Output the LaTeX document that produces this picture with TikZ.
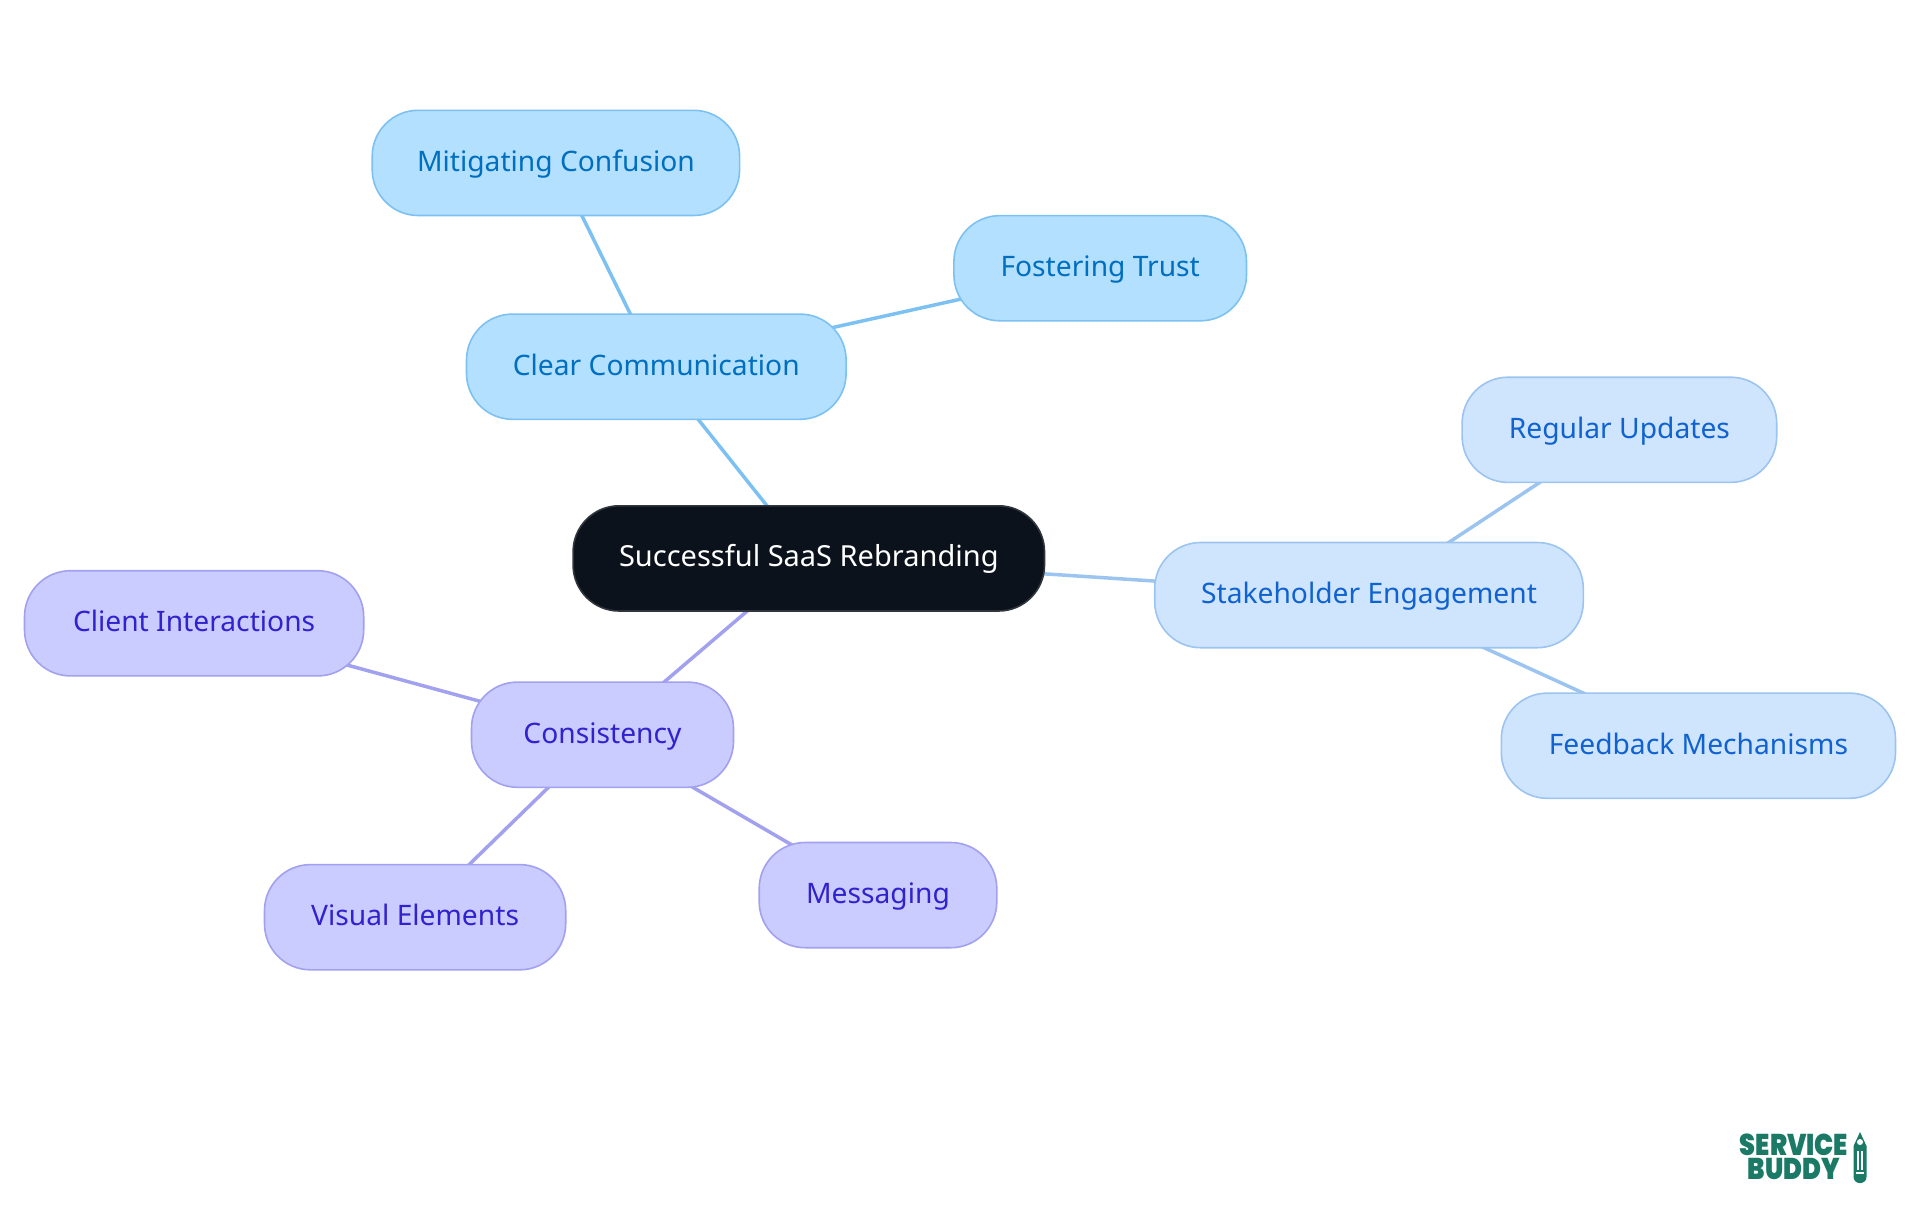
\documentclass[tikz,border=0pt]{standalone}
\usepackage{fontspec}
\setmainfont{Noto Sans}
\newfontfamily\logofont{Poppins}[BoldFont={Poppins Black}]
\usetikzlibrary{backgrounds}
\definecolor{skyfill}{HTML}{B3E0FF}
\definecolor{skyline}{HTML}{7CC1F2}
\definecolor{skytext}{HTML}{006FBF}
\definecolor{palefill}{HTML}{CFE4FD}
\definecolor{paleline}{HTML}{9CC4F0}
\definecolor{paletext}{HTML}{0F62D0}
\definecolor{violetfill}{HTML}{CACBFF}
\definecolor{violetline}{HTML}{A1A1F0}
\definecolor{violettext}{HTML}{3022CC}
\definecolor{rootfill}{HTML}{0B121B}
\definecolor{logogreen}{HTML}{1B7A66}
\tikzset{
 idea/.style = {
    rectangle, draw, line width=0.8pt,
    rounded corners=23pt,
    inner sep=0pt,
    minimum height=52.6pt,
    text height=11.4pt, text depth=3pt,
    font=\fontsize{14.1}{17}\selectfont},
 root/.style = {
    idea, fill=rootfill, draw=rootfill!85!white, text=white,
    font=\fontsize{14.5}{17}\selectfont},
 sky/.style = {
    idea, fill=skyfill, draw=skyline, text=skytext},
 pale/.style = {
    idea, fill=palefill, draw=paleline, text=paletext},
 violet/.style = {
    idea, fill=violetfill, draw=violetline, text=violettext},
 link/.style = {
    draw, line width=1.75pt},
 logotext/.style = {
    text=logogreen, inner sep=0pt, align=center, transform shape, xscale=0.85,
    font=\logofont\bfseries\fontsize{15}{12}\selectfont},
}
\begin{document}
\begin{tikzpicture}[x=0.5pt, y=-0.5pt]
    \useasboundingbox (0,0) rectangle (1920,1215);

    % Place nodes
    \node [root, minimum width=235.7pt]   (saas)     at (808.8,558.4) {Successful SaaS Rebranding};
    \node [sky, minimum width=189.8pt]    (clear)    at (656.3,366.7) {Clear Communication};
    \node [sky, minimum width=183.7pt]    (confuse)  at (555.9,162.9) {Mitigating Confusion};
    \node [sky, minimum width=146.3pt]    (trust)    at (1100.2,268.2) {Fostering Trust};
    \node [pale, minimum width=214.3pt]   (stake)    at (1369,595.1)  {Stakeholder Engagement};
    \node [pale, minimum width=157.3pt]   (updates)  at (1619.4,429.8) {Regular Updates};
    \node [pale, minimum width=197.1pt]   (feedback) at (1698.4,745.7) {Feedback Mechanisms};
    \node [violet, minimum width=131pt]   (consist)  at (602.5,734.7) {Consistency};
    \node [violet, minimum width=169.6pt] (client)   at (194.1,623.3) {Client Interactions};
    \node [violet, minimum width=150.6pt] (visual)   at (415.1,917.2) {Visual Elements};
    \node [violet, minimum width=118.8pt] (message)  at (878,895.1)   {Messaging};

    % Logo
    \node [logotext] (logo) at (1794,1157) {SERVICE\\BUDDY};
    \fill [logogreen, rounded corners=3pt] (1860,1132) [sharp corners] -- (1866.5,1146)
        [rounded corners=3pt] -- (1866.5,1183) -- (1853.5,1183) [sharp corners] -- (1853.5,1146) -- cycle;
    \fill [white] (1860,1142) circle (1.5pt);
    \draw [white, line width=0.6pt] (1858,1151) -- (1858,1170) (1862,1151) -- (1862,1170);
    \draw [white, line width=0.6pt] (1856,1173) -- (1864,1173);

    \begin{pgfonlayer}{background}
    \draw[link, skyline] (saas.center) -- (clear.center);
    \draw[link, skyline] (clear.center) -- (confuse.center);
    \draw[link, skyline] (clear.center) -- (trust.center);
    \draw[link, paleline] (saas.center) -- (stake.center);
    \draw[link, paleline] (stake.center) -- (updates.center);
    \draw[link, paleline] (stake.center) -- (feedback.center);
    \draw[link, violetline] (saas.center) -- (consist.center);
    \draw[link, violetline] (consist.center) -- (client.center);
    \draw[link, violetline] (consist.center) -- (visual.center);
    \draw[link, violetline] (consist.center) -- (message.center);
    \end{pgfonlayer}
\end{tikzpicture}
\end{document}
